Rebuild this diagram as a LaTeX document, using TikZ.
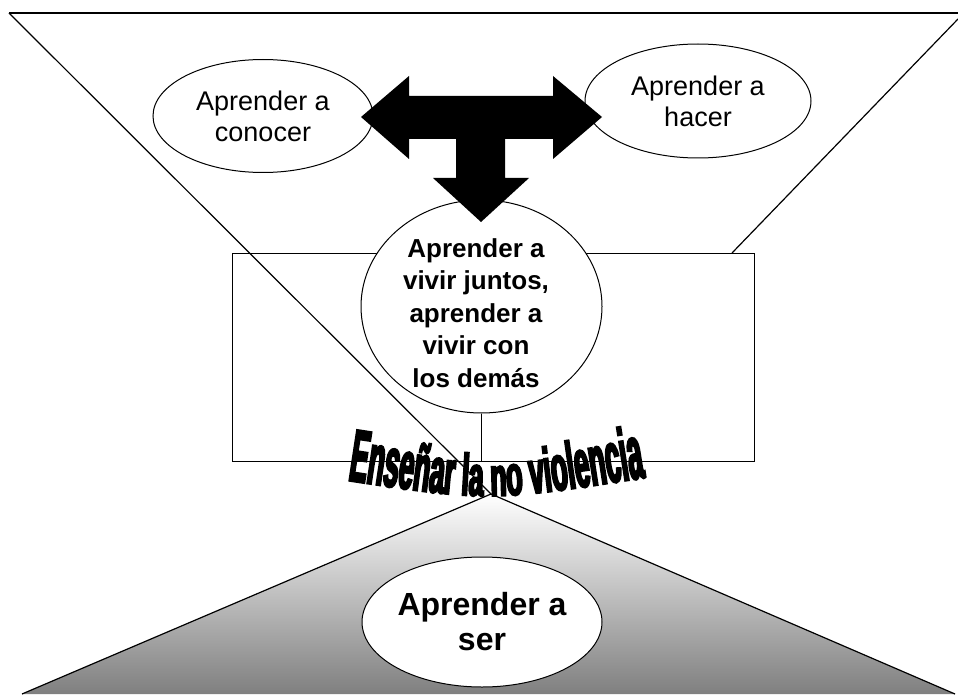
\documentclass[tikz,border=0pt]{standalone}
\usepackage{fontspec}
\setmainfont{Liberation Sans}
\newfontfamily\wordartfont[FakeStretch=0.5,FakeBold=3.5]{Liberation Sans Bold}
\newcommand\wordfont{\wordartfont\fontsize{54pt}{54pt}\selectfont}
\usetikzlibrary{shapes.geometric,decorations.text,calc}

\begin{document}
\begin{tikzpicture}[
    x=1pt, y=-1pt,
    line/.style={line width=1.2pt},
    oval/.style={draw, ellipse, fill=white, line width=1pt, inner sep=0pt, align=center},
    small/.style={font=\fontsize{27pt}{31pt}\selectfont},
    bold/.style={font=\fontsize{26pt}{32.5pt}\selectfont\bfseries},
    big/.style={font=\fontsize{32pt}{35pt}\selectfont\bfseries}
]
\useasboundingbox (0,0) rectangle (958,695);
\coordinate (tl) at (9,13);
\coordinate (tr) at (958,13);
\coordinate (tr low) at (958,19);
\coordinate (apex) at (491,494);
\coordinate (bl) at (22,694);
\coordinate (br) at (955,694);
% shaded base
\shade[top color=white, bottom color=black!50] (apex) -- (bl) -- (br) -- cycle;
\draw[line] (bl) -- (apex) -- (br);
% frame
\node[draw, line width=1pt, minimum width=522pt, minimum height=208pt, inner sep=0pt] (frame) at (493,357) {};
\draw[line] (tl) -- (tr);
\draw[line] (tl) -- (apex);
\draw[line] (tr low) -- (732,253);
% ovals
\node[oval, minimum width=241pt, minimum height=213pt] (vivir) at (481.5,306.5) {};
\node[bold, align=center, inner sep=0pt] (vivir text) at (476,313) {Aprender a\\vivir juntos,\\aprender a\\vivir con\\los demás};
\draw[line width=1pt] (vivir.south) -- (vivir.south |- frame.south);
\node[oval, small, minimum width=220pt, minimum height=113pt] (conocer) at (263,116) {Aprender a\\conocer};
\node[oval, small, minimum width=226pt, minimum height=114pt] (hacer) at (698,101) {Aprender a\\hacer};
\node[oval, big, minimum width=240pt, minimum height=130pt] (ser) at (482,622) {Aprender a\\ser};
% T arrow
\fill (361,117) -- (409,76) -- (409,96) -- (553,96) -- (553,76) -- (602,117)
  -- (553,159) -- (553,139) -- (505,139) -- (505,178) -- (529,178) -- (481,222)
  -- (433,178) -- (456,178) -- (456,139) -- (409,139) -- (409,159) -- cycle;
% word art
\begin{scope}
\wordfont
\path[decoration={text effects along path,
    text={Enseñar la no violencia}, text align=center,
    text effects/.cd, text along path,
    character count=\i, character total=\n,
    characters={font=\wordfont, yscale={1+0.4*abs(2*\i/\n-1)}}},
  decorate] (340,479) .. controls (490,502) .. (653,476);
\end{scope}
\end{tikzpicture}
\end{document}
